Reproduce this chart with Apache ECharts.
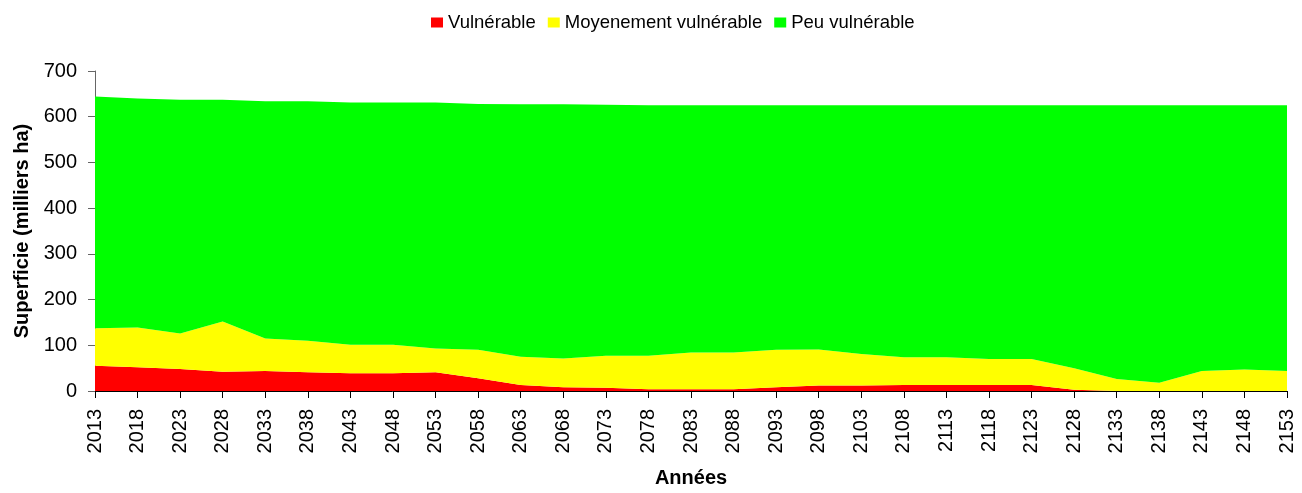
<!DOCTYPE html>
<html>
<head>
<meta charset="utf-8">
<script src="https://cdn.jsdelivr.net/npm/echarts@6/dist/echarts.min.js"></script>
<style>
  html, body { margin: 0; padding: 0; background: #fff; }
  #chart { width: 1302px; height: 493px; }
</style>
</head>
<body>
<div id="chart"></div>
<script>
var years = ['2013','2018','2023','2028','2033','2038','2043','2048','2053','2058',
             '2063','2068','2073','2078','2083','2088','2093','2098','2103','2108',
             '2113','2118','2123','2128','2133','2138','2143','2148','2153'];

var vulnerable = [55, 52, 48, 42, 44, 41, 39, 39, 41, 28,
                  13, 8, 7, 4, 4, 4, 8, 12, 12, 13,
                  13, 13, 13, 3, 0, 0, 0, 0, 0];

var moyen = [82, 87, 78, 110, 71, 69, 62, 62, 52, 62,
             62, 63, 70, 73, 80, 80, 82, 79, 69, 61,
             61, 57, 57, 47, 26, 18, 44, 47, 44];

var peu = [507, 501, 511, 485, 519, 524, 530, 530, 538, 538,
           552, 556, 549, 548, 541, 541, 535, 534, 544, 551,
           551, 555, 555, 575, 599, 607, 581, 578, 581];

var chart = echarts.init(document.getElementById('chart'), null, {renderer: 'canvas'});

function areaSeries(name, data, color) {
    return {
        name: name,
        type: 'line',
        stack: 'total',
        data: data,
        showSymbol: false,
        lineStyle: {width: 0},
        areaStyle: {color: color, opacity: 1},
        itemStyle: {color: color},
        emphasis: {disabled: true}
    };
}

chart.setOption({
    animation: false,
    textStyle: {fontFamily: 'Liberation Sans, Arial, sans-serif'},
    legend: {
        top: 8,
        left: 426,
        icon: 'rect',
        itemWidth: 12,
        itemHeight: 10,
        itemGap: 12,
        textStyle: {fontSize: 18.5, color: '#000'},
        data: ['Vulnérable', 'Moyenement vulnérable', 'Peu vulnérable']
    },
    grid: {left: 95, right: 15, top: 71, bottom: 102, outerBoundsMode: 'none'},
    xAxis: {
        type: 'category',
        data: years,
        boundaryGap: false,
        name: 'Années',
        nameLocation: 'middle',
        nameGap: 77,
        nameTextStyle: {fontSize: 20, fontWeight: 'bold', color: '#000'},
        axisLine: {lineStyle: {color: '#000', width: 1}},
        axisTick: {interval: 0, length: 7, lineStyle: {color: '#000'}},
        axisLabel: {interval: 0, rotate: 90, fontSize: 20, color: '#000', margin: 18}
    },
    yAxis: {
        type: 'value',
        min: 0,
        max: 700,
        interval: 100,
        name: 'Superficie (milliers ha)',
        nameLocation: 'middle',
        nameGap: 61,
        nameTextStyle: {fontSize: 20, fontWeight: 'bold', color: '#000'},
        axisLine: {show: true, lineStyle: {color: '#666', width: 1}},
        axisTick: {show: true, length: 7, lineStyle: {color: '#666'}},
        axisLabel: {fontSize: 20, color: '#000', margin: 18},
        splitLine: {show: false}
    },
    series: [
        areaSeries('Vulnérable', vulnerable, '#ff0000'),
        areaSeries('Moyenement vulnérable', moyen, '#ffff00'),
        areaSeries('Peu vulnérable', peu, '#00ff00')
    ]
});
</script>
</body>
</html>
